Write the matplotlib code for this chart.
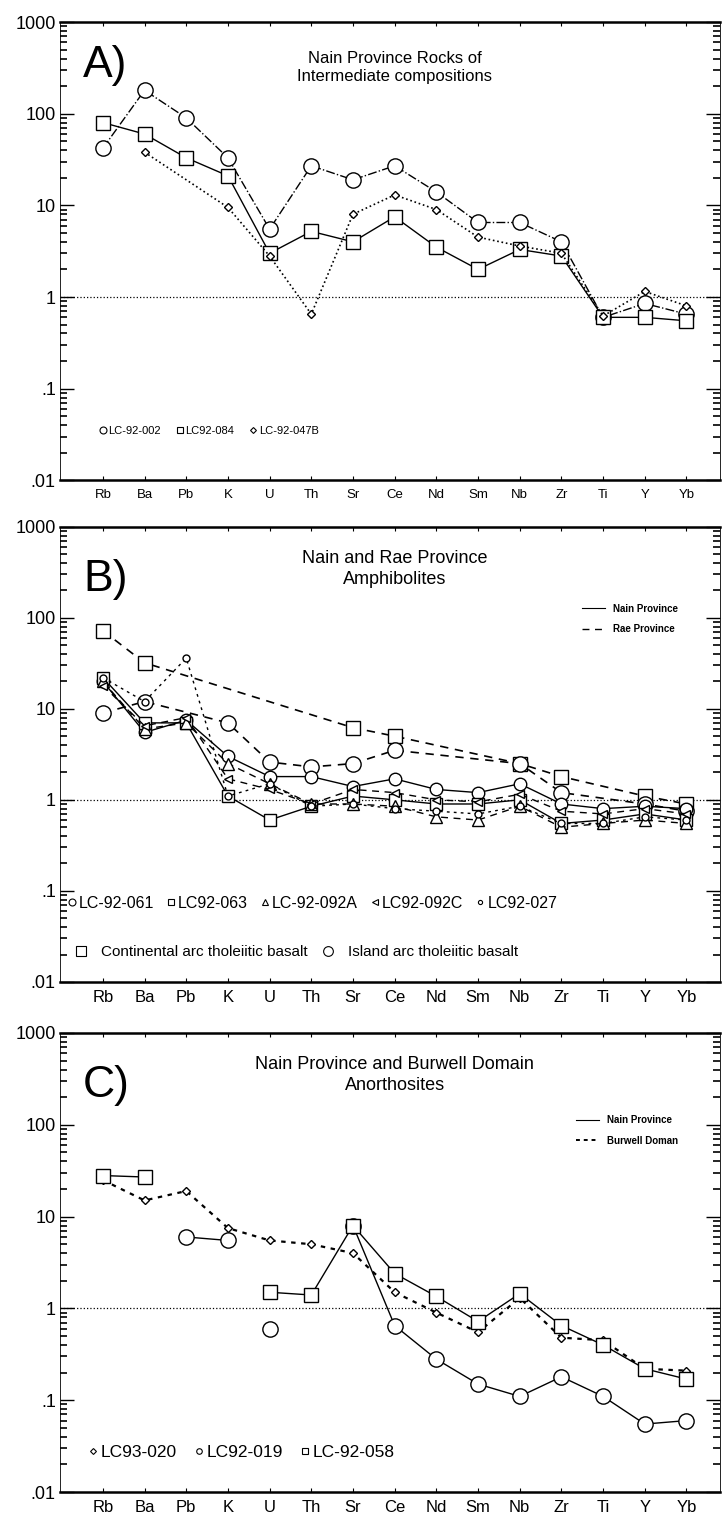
import numpy as np
import matplotlib.pyplot as plt
from matplotlib.lines import Line2D
from matplotlib.ticker import LogLocator, NullFormatter

plt.rcParams['font.family'] = ['Liberation Sans', 'DejaVu Sans']

nan = np.nan
elements = ['Rb', 'Ba', 'Pb', 'K', 'U', 'Th', 'Sr', 'Ce', 'Nd', 'Sm', 'Nb', 'Zr', 'Ti', 'Y', 'Yb']
ytick_vals = [0.01, 0.1, 1, 10, 100, 1000]
ytick_labels = ['.01', '.1', '1', '10', '100', '1000']

# Panel A: Nain Province rocks of intermediate composition
a_names = ['LC-92-002', 'LC92-084', 'LC-92-047B']
a_lc92_002 = [42, 180, 90, 33, 5.5, 27, 19, 27, 14, 6.5, 6.5, 4.0, 0.6, 0.85, 0.65]
a_lc92_084 = [80, 60, 33, 21, 3.0, 5.2, 4.0, 7.5, 3.5, 2.0, 3.3, 2.8, 0.6, 0.6, 0.55]
a_lc92_047b = [nan, 38, nan, 9.5, 2.8, 0.65, 8.0, 13, 9.0, 4.5, 3.6, 3.0, 0.62, 1.15, 0.8]

# Panel B: Nain and Rae Province amphibolites
b_names = ['LC-92-061', 'LC92-063', 'LC-92-092A', 'LC92-092C', 'LC92-027']
b_lc92_061 = [20, 5.5, 7.5, 3.0, 1.8, 1.8, 1.4, 1.7, 1.3, 1.2, 1.5, 0.9, 0.8, 0.85, 0.8]
b_lc92_063 = [22, 7.0, 7.0, 1.1, 0.6, 0.85, 1.1, 1.0, 0.9, 0.9, 1.0, 0.55, 0.6, 0.7, 0.6]
b_lc92_092a = [20, 6.0, 7.0, 2.5, 1.5, 0.9, 0.9, 0.85, 0.65, 0.6, 0.85, 0.5, 0.55, 0.6, 0.55]
b_lc92_092c = [18, 6.5, 8.0, 1.7, 1.3, 0.9, 1.3, 1.2, 1.0, 0.95, 1.15, 0.75, 0.7, 0.8, 0.7]
b_lc92_027 = [22, 12, 36, 1.1, 1.5, 0.85, 0.9, 0.8, 0.75, 0.7, 0.85, 0.55, 0.55, 0.65, 0.6]
b_cont_arc = [72, 32, nan, nan, nan, nan, 6.2, 5.0, nan, nan, 2.5, 1.8, nan, 1.1, 0.9]
b_isl_arc = [9.0, 12, nan, 7.0, 2.6, 2.3, 2.5, 3.5, nan, nan, 2.5, 1.2, nan, 0.9, 0.75]
b_ref_names = ['Continental arc tholeiitic basalt', 'Island arc tholeiitic basalt']

# Panel C: Nain Province and Burwell Domain anorthosites
c_names = ['LC93-020', 'LC92-019', 'LC-92-058']
c_lc93_020 = [25, 15, 19, 7.5, 5.5, 5.0, 4.0, 1.5, 0.9, 0.55, 1.3, 0.48, 0.45, 0.22, 0.21]
c_lc92_019 = [nan, nan, 6.0, 5.5, 0.6, nan, 8.0, 0.65, 0.28, 0.15, 0.11, 0.18, 0.11, 0.055, 0.06]
c_lc92_058 = [28, 27, nan, nan, 1.5, 1.4, 8.0, 2.4, 1.35, 0.72, 1.45, 0.65, 0.4, 0.22, 0.17]

x = np.arange(len(elements))


def plot_series(ax, vals, marker, ms, ls, lw=1.0, breaks=()):
    v = np.array(vals, dtype=float)
    ok = ~np.isnan(v)
    xs, ys = list(x[ok].astype(float)), list(v[ok])
    # line skips missing points, but is cut before the indices in breaks
    lx, ly = [], []
    for xi, yi in zip(xs, ys):
        if int(xi) in breaks:
            lx.append(nan)
            ly.append(nan)
        lx.append(xi)
        ly.append(yi)
    ax.plot(lx, ly, color='k', ls=ls, lw=lw)
    ax.plot(xs, ys, ls='none', marker=marker, ms=ms, mfc='white', mec='k', mew=1.0)


def setup_axes(ax, xfs):
    ax.set_yscale('log')
    ax.set_ylim(0.01, 1000)
    ax.set_xlim(-1.03, 14.8)
    ax.set_yticks(ytick_vals)
    ax.set_yticklabels(ytick_labels)
    ax.yaxis.set_minor_locator(LogLocator(base=10, subs=np.arange(2, 10), numticks=20))
    ax.yaxis.set_minor_formatter(NullFormatter())
    ax.set_xticks(x)
    ax.set_xticklabels(elements)
    ax.tick_params(axis='y', which='both', direction='in', left=True, right=True, labelsize=13, pad=3)
    ax.tick_params(axis='y', which='major', length=10, width=1)
    ax.tick_params(axis='y', which='minor', length=5, width=1.2)
    ax.tick_params(axis='x', direction='in', top=True, length=3, labelsize=xfs, pad=6)
    ax.spines['top'].set_linewidth(1.8)
    ax.spines['bottom'].set_linewidth(1.8)
    ax.spines['left'].set_linewidth(0.6)
    ax.spines['right'].set_linewidth(0.6)
    ax.axhline(1, color='k', ls=':', lw=0.9, zorder=0)


def marker_handle(marker, ms=5):
    return Line2D([], [], color='k', ls='none', marker=marker, ms=ms, mfc='white', mew=0.8)


fig = plt.figure(figsize=(7.22, 15.2), dpi=100)
axA = fig.add_axes([0.083, 0.684, 0.914, 0.3015])
axB = fig.add_axes([0.083, 0.354, 0.914, 0.2995])
axC = fig.add_axes([0.083, 0.0184, 0.914, 0.302])

# ---- Panel A ----
setup_axes(axA, 9.5)
plot_series(axA, a_lc92_002, 'o', 11, '-.')
plot_series(axA, a_lc92_084, 's', 10, '-')
plot_series(axA, a_lc92_047b, 'D', 4, ':', 1.2)
axA.text(0.035, 0.95, 'A)', transform=axA.transAxes, fontsize=32, va='top')
axA.text(7.0, 480, 'Nain Province Rocks of\nIntermediate compositions', ha='center', va='top',
         fontsize=12, linespacing=1.25)
axA.legend([marker_handle('o'), marker_handle('s'), marker_handle('D', 3)], a_names,
           loc='lower left', bbox_to_anchor=(0.045, 0.075), ncol=3, frameon=False,
           fontsize=8, handlelength=0.6, handletextpad=0.2, columnspacing=1.4)

# ---- Panel B ----
setup_axes(axB, 12)
plot_series(axB, b_cont_arc, 's', 10, (0, (5, 4)), 1.2)
plot_series(axB, b_isl_arc, 'o', 11, (0, (5, 4)), 1.2)
plot_series(axB, b_lc92_061, 'o', 9, '-')
plot_series(axB, b_lc92_063, 's', 9, '-')
plot_series(axB, b_lc92_092a, '^', 8, (0, (5, 4)))
plot_series(axB, b_lc92_092c, '<', 6, (0, (5, 4)))
plot_series(axB, b_lc92_027, 'o', 5, (0, (2, 3)))
axB.text(0.035, 0.93, 'B)', transform=axB.transAxes, fontsize=32, va='top')
axB.text(7.0, 560, 'Nain and Rae Province\nAmphibolites', ha='center', va='top',
         fontsize=13, linespacing=1.3)
legB1 = axB.legend([marker_handle('o'), marker_handle('s'), marker_handle('^'),
                    marker_handle('<', 4), marker_handle('o', 3)], b_names,
                   loc='lower left', bbox_to_anchor=(-0.01, 0.125), ncol=5, frameon=False,
                   fontsize=11.5, handlelength=0.5, handletextpad=0.2, columnspacing=0.8)
axB.add_artist(legB1)
legB2 = axB.legend([marker_handle('s', 7), marker_handle('o', 7)], b_ref_names,
                   loc='lower left', bbox_to_anchor=(0.0, 0.02), ncol=2, frameon=False,
                   fontsize=11, handlelength=1.0, handletextpad=0.8, columnspacing=0.8)
axB.add_artist(legB2)
axB.legend([Line2D([], [], color='k', ls='-', lw=0.8), Line2D([], [], color='k', ls=(0, (5, 4)), lw=1.0)],
           ['Nain Province', 'Rae Province'], loc='upper right', bbox_to_anchor=(0.95, 0.85),
           frameon=False, prop={'size': 7, 'weight': 'bold'}, handlelength=2.4, labelspacing=1.1)

# ---- Panel C ----
setup_axes(axC, 12)
plot_series(axC, c_lc93_020, 'D', 4, (0, (2, 2.5)), 1.6)
plot_series(axC, c_lc92_019, 'o', 11, '-', breaks=(4, 6))
plot_series(axC, c_lc92_058, 's', 10, '-', breaks=(4,))
axC.text(0.035, 0.93, 'C)', transform=axC.transAxes, fontsize=32, va='top')
axC.text(7.0, 560, 'Nain Province and Burwell Domain\nAnorthosites', ha='center', va='top',
         fontsize=13, linespacing=1.3)
legC1 = axC.legend([marker_handle('D', 3), marker_handle('o', 4), marker_handle('s', 4)], c_names,
                   loc='lower left', bbox_to_anchor=(0.02, 0.035), ncol=3, frameon=False,
                   fontsize=12.5, handlelength=0.5, handletextpad=0.2, columnspacing=1.0)
axC.add_artist(legC1)
axC.legend([Line2D([], [], color='k', ls='-', lw=0.8), Line2D([], [], color='k', ls=(0, (2, 2)), lw=1.4)],
           ['Nain Province', 'Burwell Doman'], loc='upper right', bbox_to_anchor=(0.95, 0.84),
           frameon=False, prop={'size': 7, 'weight': 'bold'}, handlelength=2.4, labelspacing=1.1)

fig.savefig('out.png', dpi=100)
